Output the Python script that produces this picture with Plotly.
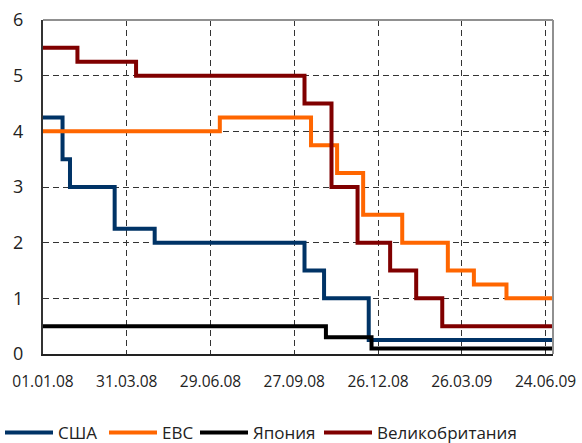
import plotly.graph_objects as go
from datetime import date, timedelta

# --- data ---
usa_dates = ["2008-01-01", "2008-01-22", "2008-01-30", "2008-03-18", "2008-04-30",
             "2008-10-08", "2008-10-29", "2008-12-16", "2009-07-02"]
usa_rates = [4.25, 3.5, 3.0, 2.25, 2.0, 1.5, 1.0, 0.25, 0.25]

ecb_dates = ["2008-01-01", "2008-07-09", "2008-10-15", "2008-11-12", "2008-12-10",
             "2009-01-21", "2009-03-11", "2009-04-08", "2009-05-13", "2009-07-02"]
ecb_rates = [4.0, 4.25, 3.75, 3.25, 2.5, 2.0, 1.5, 1.25, 1.0, 1.0]

jpn_dates = ["2008-01-01", "2008-10-31", "2008-12-19", "2009-07-02"]
jpn_rates = [0.5, 0.3, 0.1, 0.1]

uk_dates = ["2008-01-01", "2008-02-07", "2008-04-10", "2008-10-08", "2008-11-06",
            "2008-12-04", "2009-01-08", "2009-02-05", "2009-03-05", "2009-07-02"]
uk_rates = [5.5, 5.25, 5.0, 4.5, 3.0, 2.0, 1.5, 1.0, 0.5, 0.5]

series_names = ["США", "ЕВС", "Япония", "Великобритания"]
series_colors = ["#003366", "#FF6600", "#000000", "#800000"]

tick_labels = ["01.01.08", "31.03.08", "29.06.08", "27.09.08", "26.12.08", "26.03.09", "24.06.09"]
tick_vals = [(date(2008, 1, 1) + timedelta(days=90 * i)).isoformat() for i in range(len(tick_labels))]

FONT = "Open Sans"
W, H = 582, 443
ML, MR, MT, MB = 43, 29, 20, 89
PW, PH = W - ML - MR, H - MT - MB

# legend item left edges (page px) and vertical centre
legend_left_px = [0, 104, 195, 319]
legend_centre_px = 433

fig = go.Figure()
legend_ids = ["legend", "legend2", "legend3", "legend4"]
for name, color, xs, ys, lid in zip(series_names, series_colors,
                                    [usa_dates, ecb_dates, jpn_dates, uk_dates],
                                    [usa_rates, ecb_rates, jpn_rates, uk_rates],
                                    legend_ids):
    fig.add_trace(go.Scatter(x=xs, y=ys, mode="lines", name=name, legend=lid,
                             line=dict(color=color, width=4, shape="hv")))

legends = {}
for lid, px in zip(legend_ids, legend_left_px):
    legends[lid] = dict(orientation="h", x=(px - ML) / PW, xanchor="left",
                        y=-(legend_centre_px - (H - MB)) / PH, yanchor="middle",
                        font=dict(family=FONT, size=17, color="#222222"),
                        itemwidth=48, bgcolor="rgba(0,0,0,0)")

fig.update_layout(
    width=W, height=H,
    margin=dict(l=ML, r=MR, t=MT, b=MB, autoexpand=False),
    paper_bgcolor="white", plot_bgcolor="white",
    font=dict(family=FONT, size=15, color="#222222"),
    showlegend=True,
    shapes=[
        dict(type="line", xref="paper", yref="paper", x0=0, x1=1, y0=1, y1=1,
             line=dict(color="#909090", width=2)),
        dict(type="line", xref="paper", yref="paper", x0=1, x1=1, y0=0, y1=1,
             line=dict(color="#909090", width=2)),
    ],
    **legends,
)

fig.update_xaxes(
    type="date", range=["2008-01-01", "2009-07-02"],
    tickvals=tick_vals, ticktext=tick_labels, tickangle=0,
    showgrid=True, gridcolor="#333333", gridwidth=1, griddash="6px,4px",
    showline=True, linecolor="#222222", linewidth=2,
    ticks="", ticklabelstandoff=12, zeroline=False,
    automargin=False, tickfont=dict(size=15.5),
)
fig.update_yaxes(
    range=[0, 6], tickvals=[0, 1, 2, 3, 4, 5, 6],
    showgrid=True, gridcolor="#333333", gridwidth=1, griddash="6px,4px",
    showline=True, linecolor="#333333", linewidth=2,
    ticks="", ticklabelstandoff=14, zeroline=False,
    automargin=False, tickfont=dict(size=18),
)

fig.write_html(
    "out.html",
    config={"displayModeBar": False},
    post_script="document.body.style.margin='0';document.body.style.overflow='hidden';",
)
